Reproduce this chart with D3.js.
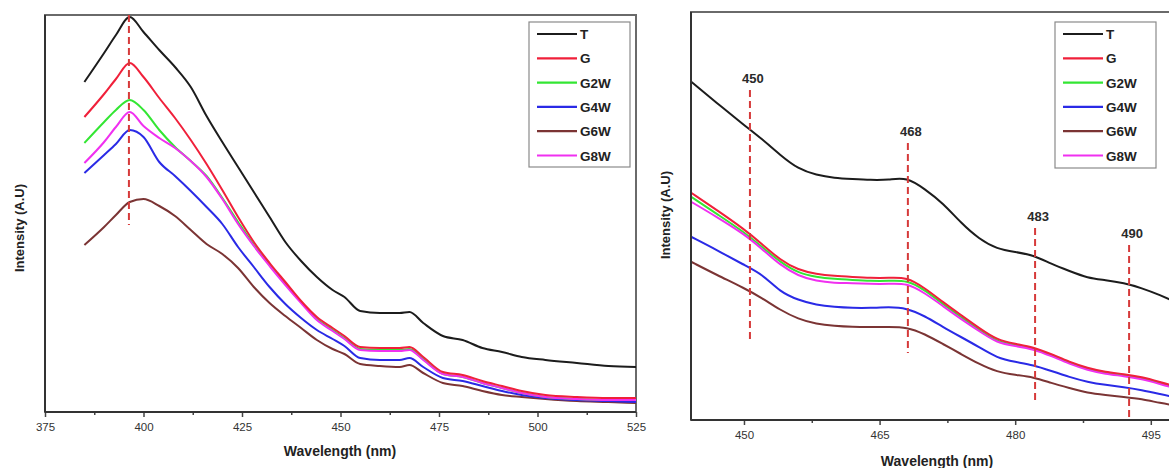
<!DOCTYPE html>
<html><head><meta charset="utf-8">
<script src="https://cdn.jsdelivr.net/npm/d3@7"></script>
<style>body{margin:0;background:#fff;overflow:hidden}</style>
</head><body><svg id="c" width="1169" height="468"></svg>
<script>
// ---------- data ----------
const seriesNames = ["T","G","G2W","G4W","G6W","G8W"];
const seriesColors = ["#1c1c1c","#f0203a","#33e633","#2a2ae6","#7b3434","#f030f0"];

// Left panel (full spectrum)
const leftWavelengths = [385,390,393,396.5,400,404,408,412,416,420,424,428,432,436,440,444,448,451,455,460,465,467.5,471,476,481,486,491,496,502,510,518,525];
const leftT   = [330,359,377,395,380,362,345,325,296,270,245,220,195,170,151,135,122,115,101,99,99,100,89,76,72,64,60,55,52,49,46,45];
const leftG   = [295,318,333,349,335,314,294,272,248,222,195,170,149,130,111,95,84,76,65,64,64,65,55,40,37,31,26,21,17,15,14,14];
const leftG2W = [269,290,302,312,302,282,265,251,236,214,190,167,147,128,110,93,82,74,63,62,62,63,53,38,35,29,24,19,15,13,12,12];
const leftG4W = [239,257,268,282,275,250,236,221,205,188,165,145,125,108,94,82,73,66,54,52,52,54,45,34,31,26,21,17,14,12,11,10];
const leftG6W = [167,185,197,210,213,206,196,182,168,158,144,125,109,96,84,72,63,58,48,46,45,47,39,29,26,21,17,15,13,11,10,9];
const leftG8W = [249,270,285,300,286,274,264,251,235,213,188,166,146,127,109,92,81,73,62,61,61,62,52,38,35,29,24,19,15,13,12,12];
const leftXTicks = [375,400,425,450,475,500,525];
const leftPeak = [396.3];
const leftPeakSpan = [187,397];

// Right panel (zoomed 444-500 nm)
const rightWavelengths = [444.2,447,450,452,454,456,458,460,462,464,466,468,470,472,474,476,478,480,482,484,486,488,490,492,494,496,498,500];
const rightT   = [338,317,295,281,265,251,245,242,241,240,240,243,231,217,197,181,171,168,165,156,149,142,140,137,132,125,117,110];
const rightG   = [227,210,191,176,160,150,146,144,143,142,142,143,132,118,105,92,80,76,73,66,58,52,48,46,43,38,33,29];
const rightG2W = [223,206,188,173,158,147,143,141,140,139,139,140,130,116,103,90,78,75,72,65,57,51,47,45,42,37,32,28];
const rightG4W = [183,170,155,146,128,120,115,113,112,112,113,112,104,93,83,73,62,58,55,49,43,38,35,33,30,26,22,19];
const rightG6W = [158,145,132,122,110,101,96,94,93,93,93,93,86,76,66,56,48,45,43,37,32,27,25,23,21,17,14,12];
const rightG8W = [218,203,186,171,155,144,139,137,137,136,136,137,127,114,101,89,77,74,71,64,56,50,46,44,41,36,31,27];
const rightXTicks = [450,465,480,495];
const rightMarkers = [450.66,468.13,482.2,492.6];
const rightMarkerLabels = ["450","468","483","490"];
const rightMarkerTop = [330,277,192,175];
const rightMarkerBottom = [78,67,18,3];

// ---------- drawing ----------
const svg = d3.select("#c");
const FONT = "Liberation Sans, Arial, Helvetica, sans-serif";

function drawPanel(cfg){
  const x = d3.scaleLinear().domain(cfg.xDomain).range([cfg.left, cfg.right]);
  const y = d3.scaleLinear().domain(cfg.yDomain).range([cfg.bottom, cfg.top]);
  const g = svg.append("g");
  const clipId = "clip" + cfg.id;
  g.append("clipPath").attr("id", clipId).append("rect")
    .attr("x", cfg.left).attr("y", cfg.top)
    .attr("width", cfg.right - cfg.left).attr("height", cfg.bottom - cfg.top);

  // frame
  g.append("rect").attr("x", cfg.left).attr("y", cfg.top)
    .attr("width", cfg.right - cfg.left).attr("height", cfg.bottom - cfg.top)
    .attr("fill", "none").attr("stroke", "#6a6a6a").attr("stroke-width", 2);

  const plot = g.append("g").attr("clip-path", `url(#${clipId})`);
  const line = d3.line().x(d => x(d[0])).y(d => y(d[1])).curve(cfg.curve);
  const order = [4,3,2,5,1,0];
  order.forEach(i => {
    const pts = cfg.wl.map((w, k) => [w, cfg.series[i][k]]);
    plot.append("path").datum(pts).attr("d", line)
      .attr("fill", "none").attr("stroke", seriesColors[i])
      .attr("stroke-width", 2).attr("stroke-linejoin", "round");
  });

  // dashed markers
  cfg.markers.forEach((m, k) => {
    plot.append("line")
      .attr("x1", x(m)).attr("x2", x(m))
      .attr("y1", y(cfg.markerTop[k])).attr("y2", y(cfg.markerBottom[k]))
      .attr("stroke", "#d63a3a").attr("stroke-width", 2)
      .attr("stroke-dasharray", "7,4");
    if (cfg.markerLabels) {
      g.append("text").attr("x", x(m) + 3).attr("y", y(cfg.markerTop[k]) - 7)
        .attr("text-anchor", "middle").attr("font-family", FONT)
        .attr("font-weight", "bold").attr("font-size", 13).attr("fill", "#2a2a2a")
        .text(cfg.markerLabels[k]);
    }
  });

  // axes
  const major = d3.axisBottom(x).tickValues(cfg.xTicks).tickSize(5).tickPadding(6);
  const ax = g.append("g").attr("transform", `translate(0,${cfg.bottom})`).call(major);
  ax.select(".domain").remove();
  ax.selectAll(".tick line").attr("stroke", "#444").attr("stroke-width", 1.5);
  ax.selectAll(".tick text").attr("font-family", FONT).attr("font-size", 11.5)
    .attr("fill", "#333");
  const minorVals = cfg.xTicks.slice(0, -1).map((t, k) => (t + cfg.xTicks[k + 1]) / 2);
  const minor = d3.axisBottom(x).tickValues(minorVals).tickSize(3).tickFormat("");
  const ax2 = g.append("g").attr("transform", `translate(0,${cfg.bottom})`).call(minor);
  ax2.select(".domain").remove();
  ax2.selectAll(".tick line").attr("stroke", "#444").attr("stroke-width", 1.5);

  g.append("line").attr("x1", cfg.left).attr("x2", cfg.right).attr("y1", cfg.bottom).attr("y2", cfg.bottom)
    .attr("stroke", "#333").attr("stroke-width", 2);
  g.append("line").attr("x1", cfg.left).attr("x2", cfg.left).attr("y1", cfg.top).attr("y2", cfg.bottom)
    .attr("stroke", "#333").attr("stroke-width", 2);

  // titles
  g.append("text").attr("x", cfg.xTitleX).attr("y", cfg.xTitleY)
    .attr("text-anchor", "middle").attr("font-family", FONT).attr("font-weight", "bold")
    .attr("font-size", 14).attr("fill", "#222").text("Wavelength (nm)");
  g.append("text").attr("transform", `translate(${cfg.yTitleX},${cfg.yTitleY}) rotate(-90)`)
    .attr("text-anchor", "middle").attr("font-family", FONT).attr("font-weight", "bold")
    .attr("font-size", 13).attr("fill", "#222").text("Intensity (A.U)");

  // legend
  const L = cfg.legend;
  g.append("rect").attr("x", L.x).attr("y", L.y).attr("width", L.w).attr("height", L.h)
    .attr("fill", "#fff").attr("stroke", "#8a8a8a").attr("stroke-width", 1.2);
  seriesNames.forEach((n, i) => {
    const yy = L.y + 12 + i * 24.3;
    g.append("line").attr("x1", L.x + 8).attr("x2", L.x + 48).attr("y1", yy).attr("y2", yy)
      .attr("stroke", seriesColors[i]).attr("stroke-width", 2.2);
    g.append("text").attr("x", L.x + 51).attr("y", yy + 5)
      .attr("font-family", FONT).attr("font-weight", "bold").attr("font-size", 13.5)
      .attr("fill", "#222").text(n);
  });
}

drawPanel({
  id: "L", left: 45, right: 636, top: 15, bottom: 412,
  xDomain: [375, 525], yDomain: [0, 397],
  wl: leftWavelengths,
  series: [leftT, leftG, leftG2W, leftG4W, leftG6W, leftG8W],
  xTicks: leftXTicks, curve: d3.curveMonotoneX,
  markers: leftPeak, markerTop: [leftPeakSpan[1]], markerBottom: [leftPeakSpan[0]],
  markerLabels: null,
  xTitleX: 340, xTitleY: 456, yTitleX: 24, yTitleY: 228,
  legend: {x: 529, y: 22, w: 101, h: 145}
});

drawPanel({
  id: "R", left: 691, right: 1196, top: 12, bottom: 420,
  xDomain: [444.14, 500], yDomain: [0, 408],
  wl: rightWavelengths,
  series: [rightT, rightG, rightG2W, rightG4W, rightG6W, rightG8W],
  xTicks: rightXTicks, curve: d3.curveBasis,
  markers: rightMarkers, markerTop: rightMarkerTop, markerBottom: rightMarkerBottom,
  markerLabels: rightMarkerLabels,
  xTitleX: 937, xTitleY: 466, yTitleX: 670, yTitleY: 215,
  legend: {x: 1055, y: 22, w: 101, h: 146}
});
</script>
</body></html>
